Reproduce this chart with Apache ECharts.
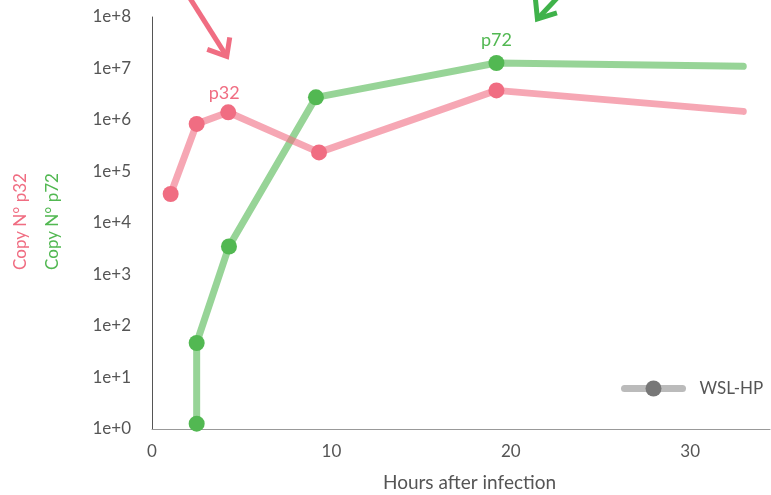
<!DOCTYPE html>
<html>
<head>
<meta charset="utf-8">
<script src="https://cdn.jsdelivr.net/npm/echarts@6.0.0/dist/echarts.min.js"></script>
<style>
html,body{margin:0;padding:0;background:#fff;}
#chart{width:771px;height:495px;}
</style>
</head>
<body>
<div id="chart"></div>
<script>
// Data
const hoursP32 = [1.04, 2.49, 4.25, 9.31, 19.2, 32.96];
const copyP32  = [3.66e4, 8.4e5, 1.41e6, 2.35e5, 3.76e6, 1.47e6];
const hoursP72 = [2.49, 2.49, 4.29, 9.14, 19.2, 32.96];
const copyP72  = [1.27, 46.8, 3.5e3, 2.75e6, 1.28e7, 1.1e7];
const yTickLabels = ['1e+0','1e+1','1e+2','1e+3','1e+4','1e+5','1e+6','1e+7','1e+8'];
const seriesName = 'WSL-HP';
const xAxisTitle = 'Hours after infection';
const yTitleP32 = 'Copy N° p32';
const yTitleP72 = 'Copy N° p72';

const RED = '#f06d82';
const GREEN = '#52b852';
const FONT = 'Lato, "Source Sans Pro", sans-serif';

function buildData(xs, ys, labelIdx, labelText, labelColor, labelDist, labelOffset) {
  return xs.map((x, i) => {
    const item = { value: [x, ys[i]] };
    if (i === xs.length - 1) item.symbol = 'none';
    if (i === labelIdx) {
      item.label = {
        show: true, formatter: labelText, position: 'top',
        distance: labelDist, offset: labelOffset,
        color: labelColor, fontSize: 18, fontFamily: FONT
      };
    }
    return item;
  });
}

const yTitles = () => [
  {
    type: 'text', x: 20.5, y: 221.5, rotation: Math.PI / 2,
    style: { text: yTitleP32, fill: RED, font: '17px ' + FONT, textAlign: 'center', textVerticalAlign: 'middle' }
  },
  {
    type: 'text', x: 53, y: 221.5, rotation: Math.PI / 2,
    style: { text: yTitleP72, fill: GREEN, font: '17px ' + FONT, textAlign: 'center', textVerticalAlign: 'middle' }
  }
];

const chart = echarts.init(document.getElementById('chart'));
const option = {
  animation: false,
  backgroundColor: '#fff',
  grid: { left: 152, top: 17, width: 618, height: 412, containLabel: false, outerBoundsMode: 'none' },
  legend: {
    left: 621, top: 380, padding: 0,
    itemWidth: 58, itemHeight: 20, itemGap: 10,
    textStyle: { color: '#555', fontSize: 17, fontFamily: FONT, padding: [0, 0, 0, 12] },
    data: [{
      name: seriesName,
      itemStyle: { color: '#777' },
      lineStyle: { color: '#bbb', width: 7, opacity: 1 }
    }]
  },
  xAxis: {
    type: 'value', min: 0, max: 34.45, interval: 10,
    name: xAxisTitle, nameLocation: 'middle', nameGap: 44,
    nameTextStyle: { color: '#555', fontSize: 19, fontFamily: FONT, padding: [0, 0, 0, 17] },
    axisLine: { show: true, lineStyle: { color: '#999', width: 1 } },
    axisTick: { show: false },
    splitLine: { show: false },
    axisLabel: { color: '#555', fontSize: 17, fontFamily: FONT, margin: 14, showMaxLabel: false }
  },
  yAxis: {
    type: 'log', logBase: 10, min: 1, max: 1e8,
    axisLine: { show: true, lineStyle: { color: '#555', width: 1 } },
    axisTick: { show: false },
    splitLine: { show: false },
    axisLabel: {
      color: '#555', fontSize: 17, fontFamily: FONT, margin: 21,
      formatter: v => yTickLabels[Math.round(Math.log10(v))]
    }
  },
  series: [
    {
      name: seriesName, type: 'line',
      data: buildData(hoursP72, copyP72, 4, 'p72', GREEN, 6, [0, 0]),
      symbol: 'circle', symbolSize: 16,
      itemStyle: { color: GREEN },
      lineStyle: { color: GREEN, width: 7, opacity: 0.6, cap: 'round', join: 'round' },
      z: 2
    },
    {
      name: seriesName, type: 'line',
      data: buildData(hoursP32, copyP32, 2, 'p32', RED, 2, [-4, 0]),
      symbol: 'circle', symbolSize: 16,
      itemStyle: { color: RED },
      lineStyle: { color: RED, width: 7, opacity: 0.6, cap: 'round', join: 'round' },
      z: 3
    }
  ],
  graphic: yTitles()
};
chart.setOption(option);

// Annotation arrows anchored to the labelled points
const pR = chart.convertToPixel({ gridIndex: 0 }, [hoursP32[2], copyP32[2]]);
const pG = chart.convertToPixel({ gridIndex: 0 }, [hoursP72[4], copyP72[4]]);
const tipR = [pR[0] - 1.5, pR[1] - 56];
const tipG = [pG[0] + 41, pG[1] - 44];
chart.setOption({
  graphic: yTitles().concat([
    {
      type: 'polyline',
      shape: { points: [[tipR[0] - 38, tipR[1] - 60], tipR] },
      style: { stroke: RED, lineWidth: 5, fill: null }
    },
    {
      type: 'polyline',
      shape: { points: [[tipR[0] - 19.5, tipR[1] - 7], tipR, [tipR[0] + 3, tipR[1] - 19]] },
      style: { stroke: RED, lineWidth: 5, fill: null, lineJoin: 'miter' }
    },
    {
      type: 'polyline',
      shape: { points: [[tipG[0] + 30, tipG[1] - 32], tipG] },
      style: { stroke: '#3fb24a', lineWidth: 5, fill: null }
    },
    {
      type: 'polyline',
      shape: { points: [[tipG[0] - 2, tipG[1] - 20], tipG, [tipG[0] + 19.5, tipG[1] - 6]] },
      style: { stroke: '#3fb24a', lineWidth: 5, fill: null, lineJoin: 'miter' }
    }
  ])
}, { replaceMerge: ['graphic'] });
</script>
</body>
</html>
